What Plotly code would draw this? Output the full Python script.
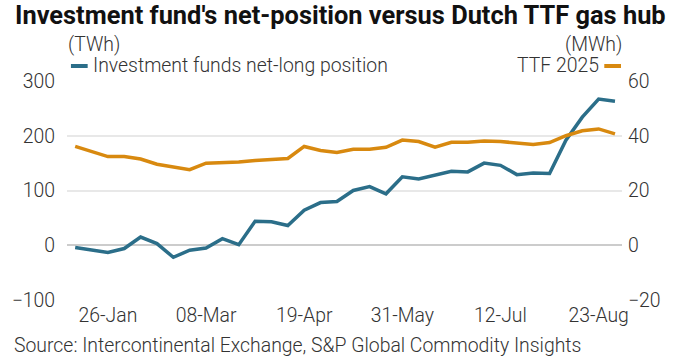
import plotly.graph_objects as go
import pandas as pd

dates = pd.date_range("2024-01-12", periods=34, freq="7D")
funds_net_long = [-4, -9, -13, -6, 15, 3, -22, -9, -5, 12, 1, 44, 43, 36, 64, 78, 80,
                  100, 107, 94, 125, 121, 128, 135, 134, 150, 146, 129, 132, 131, 192, 234, 267, 263]
ttf_2025 = [36.1, 34.2, 32.4, 32.4, 31.5, 29.6, 28.5, 27.6, 30.0, 30.1, 30.4, 31.0, 31.3, 31.7,
            36.1, 34.6, 33.9, 35.1, 35.1, 35.8, 38.4, 37.9, 35.8, 37.6, 37.6, 38.1, 37.9, 37.2,
            36.8, 37.5, 40.0, 41.8, 42.5, 40.7]
left_ticks = [-100, 0, 100, 200, 300]
right_ticks = [-20, 0, 20, 40, 60]

BLUE = "#2b6e89"
ORANGE = "#d8890f"
FONT = "Roboto"
TXT = "#333333"
FS = 19.4

fig = go.Figure()
fig.add_trace(go.Scatter(x=dates, y=ttf_2025, yaxis="y2", mode="lines",
                         line=dict(color=ORANGE, width=3.5), name="TTF 2025"))
fig.add_trace(go.Scatter(x=dates, y=funds_net_long, mode="lines",
                         line=dict(color=BLUE, width=3.5), name="Investment funds net-long position"))

L, R, T, B = 59, 50, 81, 58
fig.update_layout(
    width=673, height=358,
    margin=dict(l=L, r=R, t=T, b=B),
    paper_bgcolor="white", plot_bgcolor="white",
    showlegend=False,
    font=dict(family=FONT, size=FS, color=TXT, weight=300),
    xaxis=dict(type="date", range=["2024-01-08 12:00", "2024-09-02"],
               tick0="2024-01-26", dtick=42 * 24 * 3600 * 1000, tickformat="%d-%b",
               showgrid=False, zeroline=False, showline=False, ticks="", ticklabelstandoff=2,
               tickfont=dict(size=FS, color=TXT, weight=300)),
    yaxis=dict(range=[-100, 300], tickvals=left_ticks, showgrid=True,
               gridcolor="#e8e8e8", gridwidth=1.5, zeroline=True, zerolinecolor="#cccccc",
               zerolinewidth=1.5, ticks="", ticklabelstandoff=11,
               tickfont=dict(size=FS, color=TXT, weight=300)),
    yaxis2=dict(range=[-20, 60], tickvals=right_ticks, overlaying="y", side="right",
                showgrid=False, zeroline=False, ticks="", ticklabelstandoff=5,
                tickfont=dict(size=FS, color=TXT, weight=300)),
)

W, H = 673 - L - R, 358 - T - B
def px(xp):
    return (xp - L) / W
def py(yp):
    return (358 - B - yp) / H

annos = [
    dict(x=4, y=15, text="<b>Investment fund's net-position versus Dutch TTF gas hub</b>",
         xanchor="left", size=25.4, color="#111111", weight=700),
    dict(x=58, y=44, text="(TWh)", xanchor="left", size=FS, color=TXT, weight=300),
    dict(x=625, y=44, text="(MWh)", xanchor="right", size=FS, color=TXT, weight=300),
    dict(x=83, y=66, text="Investment funds net-long position", xanchor="left", size=FS, color=TXT, weight=300),
    dict(x=602, y=66, text="TTF 2025", xanchor="right", size=FS, color=TXT, weight=300),
    dict(x=3, y=345, text="Source: Intercontinental Exchange, S&P Global Commodity Insights",
         xanchor="left", size=FS, color=TXT, weight=300),
]
fig.layout.annotations = [
    dict(x=px(a["x"]), y=py(a["y"]), xref="paper", yref="paper",
         xanchor=a["xanchor"], yanchor="middle", text=a["text"], showarrow=False,
         font=dict(family=FONT, size=a["size"], color=a["color"], weight=a["weight"]))
    for a in annos
]
# legend swatches
fig.add_shape(type="line", xref="paper", yref="paper", x0=px(63), x1=px(80), y0=py(66), y1=py(66),
              line=dict(color=BLUE, width=4))
fig.add_shape(type="line", xref="paper", yref="paper", x0=px(605), x1=px(622), y0=py(66), y1=py(66),
              line=dict(color=ORANGE, width=4))

fig.write_html("out.html", config={"displayModeBar": False},
               post_script="document.body.style.margin='0';document.body.style.padding='0';")
